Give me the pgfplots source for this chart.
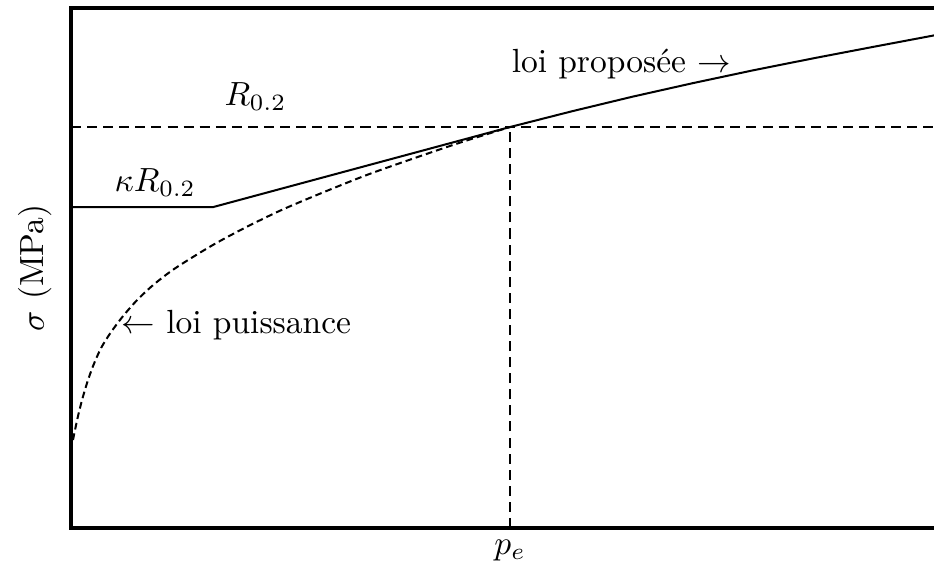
\documentclass[border=0pt]{standalone}
\usepackage{pgfplots}
\pgfplotsset{compat=1.18}
\begin{document}
\begin{tikzpicture}
\begin{axis}[scale only axis,
width=258.2pt, height=155.2pt,
xmin=0, xmax=863, ymin=0, ymax=520,
axis line style={line width=1pt},
xtick={438}, xticklabels={$p_e$}, ytick=\empty,
major tick length=0pt,
ylabel={$\sigma$ (MPa)},
every axis y label/.style={at={(axis description cs:-0.041,0.5)}, rotate=90, anchor=center},
clip=false,
]
% limite R0.2 et p_e
\addplot[dash pattern=on 3pt off 1.8pt, line width=0.5pt] coordinates {(0,401) (863,401)};
\addplot[dash pattern=on 3pt off 1.8pt, line width=0.5pt] coordinates {(438,0) (438,401)};
% loi puissance
\addplot[dash pattern=on 2pt off 1.2pt, line width=0.6pt, smooth] coordinates {
(2,88) (4,98) (7,112) (11,128) (16,145) (22,162) (30,180) (40,196) (52,212)
(66,228) (82,243) (100,257) (120,270) (145,285) (175,301) (210,318) (250,335)
(295,353) (340,369) (390,386) (438,401)
};
% loi proposee
\addplot[line width=0.6pt] coordinates {
(0,321) (142,321) (438,401) (500,416.8) (560,431.3) (620,444.8) (680,457.6)
(740,469.6) (800,481.1) (863,493)
};
\node at (axis cs:184,431) {$R_{0.2}$};
\node at (axis cs:84,345) {$\kappa R_{0.2}$};
\node at (axis cs:549,464) {loi proposée $\rightarrow$};
\node at (axis cs:165,203) {$\leftarrow$ loi puissance};
\coordinate (sw) at (rel axis cs:0,0);
\coordinate (ne) at (rel axis cs:1,1);
\end{axis}
\pgfresetboundingbox
\path[use as bounding box] ([xshift=-21.2pt,yshift=-12.2pt]sw) rectangle ([xshift=-0.6pt,yshift=2.4pt]ne);
\end{tikzpicture}
\end{document}
